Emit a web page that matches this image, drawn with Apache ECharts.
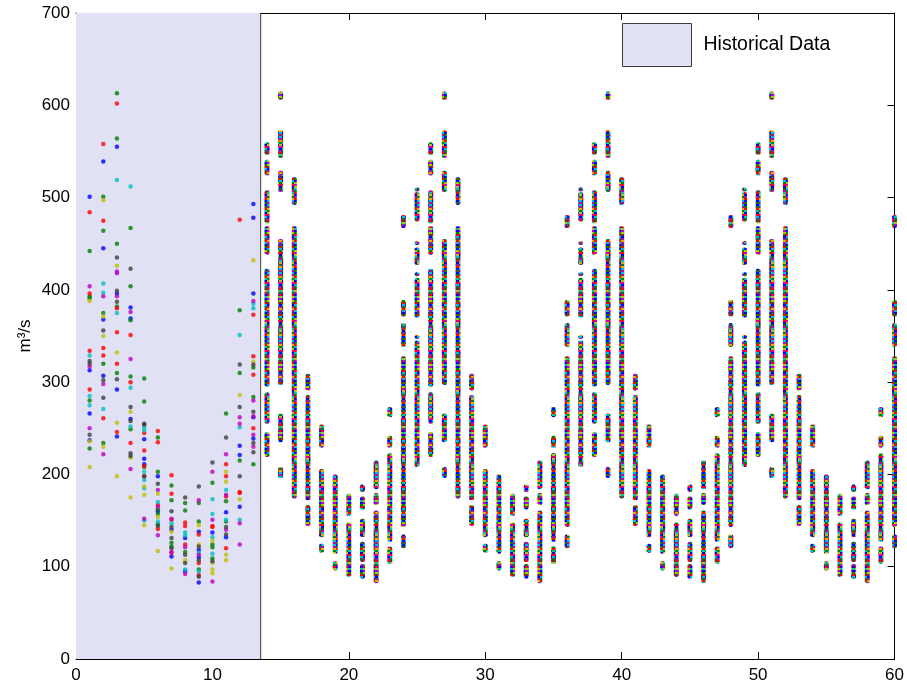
<!DOCTYPE html>
<html>
<head>
<meta charset="utf-8">
<title>Monthly flow: historical record and simulated traces</title>
<script src="https://cdn.jsdelivr.net/npm/echarts@6/dist/echarts.min.js"></script>
<style>
  html, body { margin: 0; padding: 0; background: #fff; }
  #chart { width: 907px; height: 689px; }
</style>
</head>
<body>
<div id="chart"></div>
<script>
// ---- axes ----
const xTicks = [0, 10, 20, 30, 40, 50, 60];
const yTicks = [0, 100, 200, 300, 400, 500, 600, 700];
const yAxisName = 'm³/s';
const legendName = 'Historical Data';
const historicalEnd = 13.5;

// ---- historical record: [month, flow] per trace ----
const histTrace1 = [[1,501],[1,313],[1,266],[1,237],[2,539],[2,445],[2,368],[2,307],[3,555],[3,396],[3,292],[3,241],
  [4,381],[4,369],[4,260],[5,238],[5,217],[5,211],[6,198],[6,160],[7,140],[7,111],[8,131],[8,95],
  [9,138],[9,118],[9,110],[9,83],[10,137],[11,159],[11,132],[12,231],[12,221],[12,165],
  [13,493],[13,478],[13,396],[13,262],[13,239]];
const histTrace2 = [[1,442],[1,393],[1,391],[1,280],[1,228],[2,501],[2,464],[2,375],[2,320],[2,234],
  [3,613],[3,564],[3,450],[3,382],[3,310],[4,467],[4,404],[4,367],[4,306],[4,249],[5,304],[5,279],[5,208],
  [6,240],[6,203],[6,162],[6,157],[6,146],[7,188],[7,172],[7,126],[7,122],[8,169],[8,161],[8,116],
  [9,169],[9,149],[9,97],[10,191],[10,124],[10,121],[10,109],[11,266],[11,171],[11,149],
  [12,378],[12,310],[12,215],[13,316],[13,284],[13,211]];
const histTrace3 = [[1,484],[1,396],[1,334],[1,292],[2,558],[2,475],[2,337],[2,329],[2,261],
  [3,602],[3,380],[3,354],[3,320],[3,246],[4,351],[4,300],[4,234],[5,245],[5,226],[5,209],[5,198],
  [6,247],[6,235],[6,167],[6,141],[7,199],[7,179],[7,151],[7,115],[8,148],[8,144],[8,124],
  [9,135],[9,104],[9,91],[10,144],[10,143],[11,211],[11,198],[11,176],[11,120],
  [12,476],[12,181],[12,180],[13,373],[13,328],[13,308],[13,250]];
const histTrace4 = [[1,329],[1,285],[1,275],[2,407],[2,397],[2,271],[3,519],[3,375],[4,512],[4,294],[4,252],
  [5,251],[5,248],[5,203],[5,194],[5,185],[5,150],[6,170],[6,149],[7,147],[8,137],[8,134],[8,97],
  [9,115],[9,95],[10,173],[10,157],[10,132],[10,114],[11,183],[11,151],[12,351],[12,251],[12,151],
  [13,385],[13,380]];
const histTrace5 = [[1,404],[1,317],[1,250],[2,393],[2,298],[2,222],[3,420],[3,418],[3,393],[4,376],[4,325],[4,206],
  [5,152],[6,183],[6,165],[6,134],[7,152],[7,116],[8,121],[8,92],[9,172],[9,113],[10,203],[10,151],[10,84],
  [11,222],[11,178],[11,140],[12,262],[12,255],[12,147],[12,124],[13,388],[13,280],[13,263],[13,243],[13,230]];
const histTrace6 = [[1,388],[1,236],[1,208],[2,497],[2,371],[2,350],[2,230],[3,426],[3,332],[3,256],[3,198],
  [4,268],[4,218],[4,175],[5,187],[5,178],[5,145],[6,179],[6,154],[6,117],[7,138],[7,98],[8,107],
  [9,145],[9,124],[10,128],[10,104],[10,97],[10,93],[11,203],[11,192],[11,113],[11,107],
  [12,286],[12,173],[13,432],[13,322]];
const histTrace7 = [[1,323],[1,320],[1,243],[2,356],[2,302],[2,283],[3,435],[3,399],[3,387],[3,303],
  [4,423],[4,273],[4,258],[4,223],[4,220],[5,255],[5,254],[5,198],[6,190],[6,144],
  [7,160],[7,143],[7,131],[7,120],[8,175],[8,113],[8,104],[9,187],[9,122],[9,107],[9,89],
  [10,213],[10,106],[11,240],[11,143],[11,135],[12,319],[12,273],[12,198],
  [13,319],[13,268],[13,234],[13,224]];

// ---- simulated ensemble: occupied flow bands [low, high] for each calendar month ----
const simJan = [[208,345],[348,351],[370,413],[417,419],[427,446],[451,453],[474,506],[509,511]];
const simFeb = [[219,246],[255,289],[295,423],[438,469],[472,508],[524,541],[546,560]];
const simMar = [[196,208],[235,266],[297,455],[506,529],[543,573],[606,615]];
const simApr = [[174,469],[492,522]];
const simMay = [[144,167],[172,286],[291,309]];
const simJun = [[115,125],[132,206],[229,254]];
const simJul = [[96,106],[114,200]];
const simAug = [[89,148],[155,179]];
const simSep = [[87,103],[105,127],[132,152],[162,176],[181,189]];
const simOct = [[82,161],[167,180],[184,215]];
const simNov = [[103,122],[127,223],[229,242],[262,273]];
const simDec = [[120,135],[143,328],[338,364],[371,389],[467,481]];
const simFirstMonth = 14;
const simLastMonth = 60;

// ---- styling ----
const traceColors = ['#0000ff', '#008000', '#ff0000', '#00bfbf', '#bf00bf', '#bfbf00', '#404040'];
const shadeColor = '#e1e1f6';
const shadeEdge = '#3a3a3a';
const fontFamily = '"Liberation Sans", Arial, Helvetica, sans-serif';

// Multicoloured fill for the dense simulated bands (two cells per row, palette indices)
const bandCells = '03142531052430146253410235041526301425340612035142503614230541250314';
function makeBandPattern() {
  const cw = 3, ch = 2;
  const rows = Math.floor(bandCells.length / 2);
  const c = document.createElement('canvas');
  c.width = cw * 2;
  c.height = rows * ch;
  const ctx = c.getContext('2d');
  for (let r = 0; r < rows; r++) {
    for (let k = 0; k < 2; k++) {
      ctx.fillStyle = traceColors[+bandCells[r * 2 + k]];
      ctx.fillRect(k * cw, r * ch, cw, ch);
    }
  }
  return c;
}
const bandPattern = { image: makeBandPattern(), repeat: 'repeat' };

const simByMonth = [simJan, simFeb, simMar, simApr, simMay, simJun, simJul, simAug, simSep, simOct, simNov, simDec];
const simData = [];
for (let m = simFirstMonth; m <= simLastMonth; m++) {
  simByMonth[(m - 1) % 12].forEach(function (b) { simData.push([m, b[0], b[1]]); });
}

const histTraces = [histTrace1, histTrace2, histTrace3, histTrace4, histTrace5, histTrace6, histTrace7];

const chart = echarts.init(document.getElementById('chart'), null, { renderer: 'canvas' });

function valueAxis(pos, ticks, showLabels, extra) {
  return Object.assign({
    type: 'value',
    position: pos,
    min: ticks[0],
    max: ticks[ticks.length - 1],
    interval: ticks[1] - ticks[0],
    axisLine: { show: true, onZero: false, lineStyle: { color: '#000', width: 1 } },
    axisTick: { show: true, inside: true, length: 7, lineStyle: { color: '#000', width: 1 } },
    axisLabel: { show: showLabels, color: '#000', fontSize: 17, fontFamily: fontFamily },
    splitLine: { show: false }
  }, extra || {});
}

const series = [];
// shaded historical period
series.push({
  name: legendName,
  type: 'custom',
  xAxisIndex: 0, yAxisIndex: 0,
  z: 1,
  silent: true,
  itemStyle: { color: shadeColor, borderColor: shadeEdge, borderWidth: 1 },
  data: [[0, historicalEnd, yTicks[0], yTicks[yTicks.length - 1]]],
  encode: { x: [0, 1], y: [2, 3] },
  renderItem: function (params, api) {
    const a = api.coord([api.value(0), api.value(3)]);
    const b = api.coord([api.value(1), api.value(2)]);
    return {
      type: 'group',
      children: [
        { type: 'rect', shape: { x: a[0], y: a[1], width: b[0] - a[0], height: b[1] - a[1] },
          style: { fill: shadeColor } },
        { type: 'line', shape: { x1: b[0] + 0.5, y1: a[1], x2: b[0] + 0.5, y2: b[1] },
          style: { stroke: shadeEdge, lineWidth: 1 } }
      ]
    };
  }
});
// simulated bands
series.push({
  name: 'Simulated',
  type: 'custom',
  z: 3,
  silent: true,
  data: simData,
  encode: { x: 0, y: [1, 2] },
  renderItem: function (params, api) {
    const top = api.coord([api.value(0), api.value(2)]);
    const bot = api.coord([api.value(0), api.value(1)]);
    return {
      type: 'rect',
      shape: { x: top[0] - 2.5, y: top[1], width: 5, height: Math.max(bot[1] - top[1], 4), r: 2 },
      style: { fill: bandPattern }
    };
  }
});
// historical points
histTraces.forEach(function (tr, i) {
  series.push({
    name: 'trace' + (i + 1),
    type: 'scatter',
    z: 4,
    silent: true,
    symbol: 'circle',
    symbolSize: 4.5,
    itemStyle: { color: traceColors[i] },
    data: tr
  });
});

chart.setOption({
  animation: false,
  backgroundColor: '#fff',
  grid: { left: 76, right: 12, top: 13, bottom: 30, containLabel: false },
  legend: {
    show: true,
    left: 617, top: 18,
    itemWidth: 69, itemHeight: 43,
    selectedMode: false,
    data: [{ name: legendName, icon: 'rect',
             itemStyle: { color: shadeColor, borderColor: shadeEdge, borderWidth: 1 } }],
    textStyle: { color: '#000', fontSize: 19.5, fontFamily: fontFamily, padding: [0, 0, 0, 7] }
  },
  xAxis: [
    valueAxis('bottom', xTicks, true, { axisLabel: { show: true, color: '#000', fontSize: 17, fontFamily: fontFamily, margin: 8 } }),
    valueAxis('top', xTicks, false)
  ],
  yAxis: [
    valueAxis('left', yTicks, true, {
      name: yAxisName,
      nameLocation: 'middle',
      nameGap: 42,
      nameMoveOverlap: false,
      nameRotate: 90,
      nameTextStyle: { color: '#000', fontSize: 17, fontFamily: fontFamily },
      axisLabel: { show: true, color: '#000', fontSize: 17, fontFamily: fontFamily, margin: 6 }
    }),
    valueAxis('right', yTicks, false)
  ],
  series: series
});
</script>
</body>
</html>
